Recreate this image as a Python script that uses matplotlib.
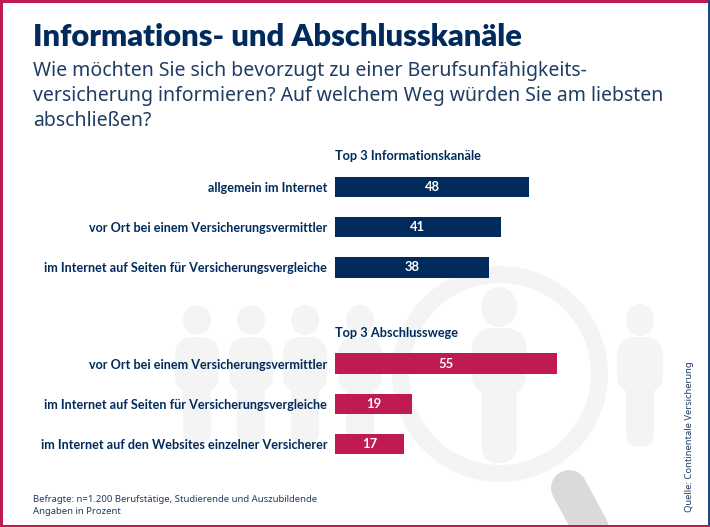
import matplotlib
matplotlib.use("Agg")
import matplotlib.pyplot as plt
from matplotlib.patches import Circle, Ellipse, FancyBboxPatch, Rectangle

W, H = 710, 527
NAVY = "#002B5C"
PINK = "#C01A52"
SIL = "#F4F4F4"
HANDLE = "#DADADA"
TEXT = "#1F3C63"
BOLD = "Lato"

info_labels = ["allgemein im Internet",
               "vor Ort bei einem Versicherungsvermittler",
               "im Internet auf Seiten für Versicherungsvergleiche"]
info_values = [48, 41, 38]
close_labels = ["vor Ort bei einem Versicherungsvermittler",
                "im Internet auf Seiten für Versicherungsvergleiche",
                "im Internet auf den Websites einzelner Versicherer"]
close_values = [55, 19, 17]

plt.rcParams["font.family"] = "Noto Sans"
fig = plt.figure(figsize=(W / 100, H / 100), dpi=100, facecolor="white")

# background layer in pixel coordinates
bg = fig.add_axes([0, 0, 1, 1])
bg.set_xlim(0, W)
bg.set_ylim(H, 0)
bg.axis("off")


def person(cx, head_y, head_rx, head_ry, body_w, body_top, body_bot, leg_w, leg_bot):
    bg.add_patch(Ellipse((cx, head_y), head_rx * 2, head_ry * 2, color=SIL, lw=0, zorder=2))
    r = body_w * 0.42
    bg.add_patch(FancyBboxPatch((cx - body_w / 2 + r, body_top + r), body_w - 2 * r, body_bot - body_top - 2 * r,
                                boxstyle=f"round,pad={r}", color=SIL, lw=0, zorder=2))
    r2 = leg_w / 2 - 0.1
    bg.add_patch(FancyBboxPatch((cx - 0.1, body_bot - 20), 0.2, leg_bot - body_bot + 20 - r2,
                                boxstyle=f"round,pad={r2}", color=SIL, lw=0, zorder=2))


for cx in [197, 251, 305, 360]:
    person(cx, 320, 14, 15, 44, 337, 393, 28, 445)
person(640, 320, 14, 16, 46, 337, 393, 28, 447)
person(499, 307, 18, 20, 55, 328, 395, 35, 463)

# magnifier
bg.add_patch(Circle((500, 374), 99.5, fill=False, ec=SIL, lw=17 * 0.72, zorder=1))
bg.plot([569, 600], [488, 545], color=HANDLE, lw=36 * 0.72, solid_capstyle="round", zorder=2)

# frame
bg.add_patch(Rectangle((0, 0), W, 2.5, color=PINK, lw=0, zorder=5))
bg.add_patch(Rectangle((0, 0), 2.5, H, color=PINK, lw=0, zorder=5))
bg.add_patch(Rectangle((0, H - 2.5), W, 2.5, color=PINK, lw=0, zorder=5))
bg.add_patch(Rectangle((W - 2.5, 0), 2.5, H - 2, color="#1E4A78", lw=0, zorder=5))


def bar_axes(labels, values, color, top, bottom):
    # 4.04 px per percentage point, bars start at x=335
    ax = fig.add_axes([335 / W, 1 - bottom / H, 360 / W, (bottom - top) / H])
    ax.patch.set_alpha(0)
    ax.barh(range(3), values, height=0.51, color=color)
    ax.set_xlim(0, 360 / 4.04)
    ax.set_ylim(2.5, -0.5)
    ax.set_yticks(range(3), labels, fontsize=9.1, fontfamily=BOLD, fontweight="bold", color=NAVY)
    ax.set_xticks([])
    ax.tick_params(axis="y", length=0, pad=5.5)
    for s in ax.spines.values():
        s.set_visible(False)
    for i, v in enumerate(values):
        ax.text(v / 2, i, str(v), color="white", fontsize=9.4, fontfamily=BOLD, fontweight="bold", ha="center", va="center")
    return ax


bar_axes(info_labels, info_values, NAVY, 167, 287.5)
bar_axes(close_labels, close_values, PINK, 343.5, 464)

# texts
bg.text(33, 46, "Informations- und Abschlusskanäle", fontsize=22.2, fontfamily=BOLD, fontweight="heavy", color=NAVY, va="baseline", zorder=6)
sub = ["Wie möchten Sie sich bevorzugt zu einer Berufsunfähigkeits-",
       "versicherung informieren? Auf welchem Weg würden Sie am liebsten",
       "abschließen?"]
for y, line in zip([76, 101.5, 126.5], sub):
    bg.text(33, y, line, fontsize=14.0, color=TEXT, va="baseline", zorder=6)
bg.text(335, 160, "Top 3 Informationskanäle", fontsize=9.2, fontfamily=BOLD, fontweight="bold", color=NAVY, va="baseline", zorder=6)
bg.text(335, 337, "Top 3 Abschlusswege", fontsize=9.2, fontfamily=BOLD, fontweight="bold", color=NAVY, va="baseline", zorder=6)
bg.text(33, 502, "Befragte: n=1.200 Berufstätige, Studierende und Auszubildende", fontsize=6.85, color=TEXT, va="baseline", zorder=6)
bg.text(33, 514, "Angaben in Prozent", fontsize=6.85, color=TEXT, va="baseline", zorder=6)
bg.text(690, 512, "Quelle: Continentale Versicherung", fontsize=6.8, color=TEXT, rotation=90, ha="center", va="bottom", zorder=6)

fig.savefig("out.png", dpi=100)
